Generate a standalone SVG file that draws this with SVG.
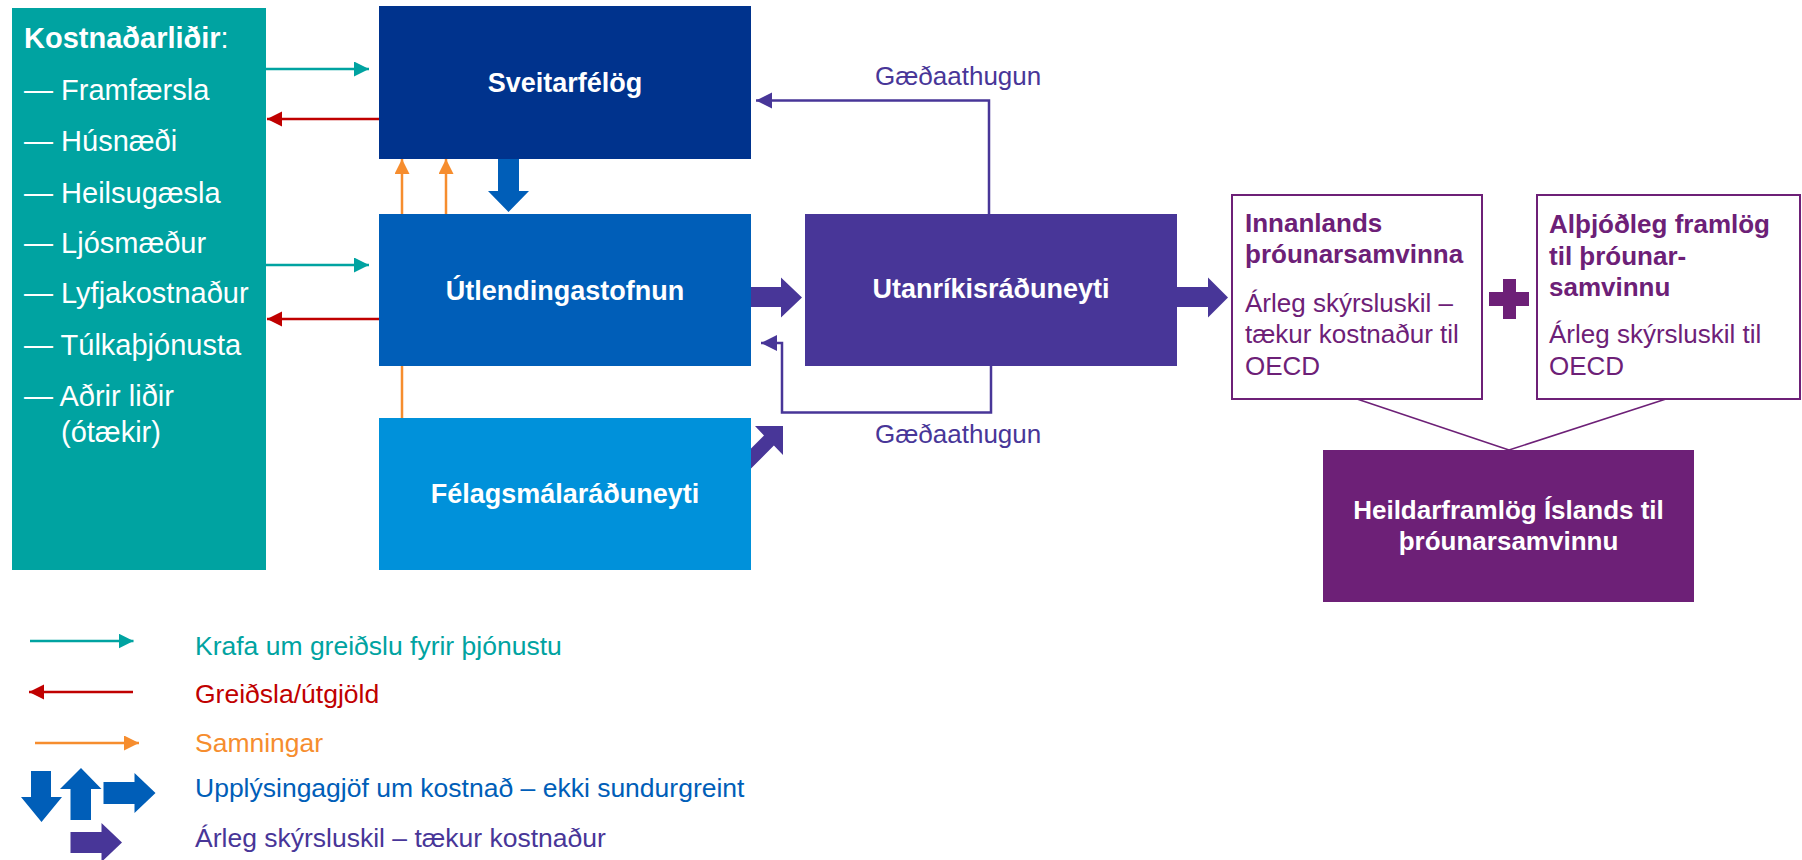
<svg xmlns="http://www.w3.org/2000/svg" width="1802" height="860" viewBox="0 0 1802 860">
<style>
text{font-family:"Liberation Sans",Arial,sans-serif}
.wl{fill:#fff;font-size:29px}
.lbl{fill:#fff;font-size:27px;font-weight:bold;text-anchor:middle}
.pl{fill:#6D2077;font-size:26px}
.plb{fill:#6D2077;font-size:26px;font-weight:bold}
.gq{fill:#483698;font-size:26px}
.lg{font-size:26.5px}
.teal{stroke:#00A3A1;stroke-width:2.5;fill:none}
.red{stroke:#C00000;stroke-width:2.5;fill:none}
.org{stroke:#F68D2E;stroke-width:2.5;fill:none}
.pur{stroke:#483698;stroke-width:2.5;fill:none}
.thin{stroke:#6D2077;stroke-width:1.5;fill:none}
</style>
<defs>
<marker id="mTeal" markerUnits="userSpaceOnUse" markerWidth="16" markerHeight="16" refX="15" refY="7.5" orient="auto"><path d="M0,0 L15,7.5 L0,15 z" fill="#00A3A1"/></marker>
<marker id="mRed" markerUnits="userSpaceOnUse" markerWidth="16" markerHeight="16" refX="15" refY="7.5" orient="auto"><path d="M0,0 L15,7.5 L0,15 z" fill="#C00000"/></marker>
<marker id="mOrg" markerUnits="userSpaceOnUse" markerWidth="16" markerHeight="16" refX="15" refY="7.5" orient="auto"><path d="M0,0 L15,7.5 L0,15 z" fill="#F68D2E"/></marker>
<marker id="mPur" markerUnits="userSpaceOnUse" markerWidth="17" markerHeight="17" refX="16" refY="8" orient="auto"><path d="M0,0 L16,8 L0,16 z" fill="#483698"/></marker>
</defs>

<g id="connectors">
<line class="teal" x1="266" y1="69" x2="369" y2="69" marker-end="url(#mTeal)"/>
<line class="red" x1="379" y1="119" x2="267" y2="119" marker-end="url(#mRed)"/>
<line class="teal" x1="266" y1="265" x2="369" y2="265" marker-end="url(#mTeal)"/>
<line class="red" x1="379" y1="319" x2="267" y2="319" marker-end="url(#mRed)"/>
<line class="org" x1="402" y1="418" x2="402" y2="159" marker-end="url(#mOrg)"/>
<line class="org" x1="446" y1="214" x2="446" y2="159" marker-end="url(#mOrg)"/>
<polygon fill="#005EB8" points="498,159 519,159 519,191 529,191 508.5,212 488,191 498,191"/>
<polygon fill="#483698" points="751,287 781,287 781,277.5 802,297.5 781,317.5 781,307 751,307"/>
<polygon fill="#483698" points="1177,287 1208,287 1208,277.5 1228,297.5 1208,317.5 1208,307 1177,307"/>
<polygon fill="#483698" points="783,426 783,455 773.9,445.4 750,469.5 740,459.5 764,435.5 755,426"/>
<polyline class="pur" points="989,214 989,100.5 756,100.5" marker-end="url(#mPur)"/>
<polyline class="pur" points="991,366 991,412.5 782,412.5 782,343 761,343" marker-end="url(#mPur)"/>
<line class="thin" x1="1357" y1="399" x2="1509" y2="450"/>
<line class="thin" x1="1666" y1="399" x2="1509" y2="450"/>
<text class="gq" x="875" y="85">Gæðaathugun</text>
<text class="gq" x="875" y="443">Gæðaathugun</text>
</g>

<g id="kostnadarlidir">
<rect x="12" y="8" width="254" height="562" fill="#00A3A1"/>
<text class="wl" x="24" y="48"><tspan font-weight="bold">Kostnaðarliðir</tspan>:</text>
<text class="wl" x="24" y="100">— Framfærsla</text>
<text class="wl" x="24" y="151">— Húsnæði</text>
<text class="wl" x="24" y="203">— Heilsugæsla</text>
<text class="wl" x="24" y="253">— Ljósmæður</text>
<text class="wl" x="24" y="303">— Lyfjakostnaður</text>
<text class="wl" x="24" y="355">— Túlkaþjónusta</text>
<text class="wl" x="24" y="406">— Aðrir liðir</text>
<text class="wl" x="61" y="442">(ótækir)</text>
</g>

<g id="sveitarfelog">
<rect x="379" y="6" width="372" height="153" fill="#00338D"/>
<text class="lbl" x="565" y="92">Sveitarfélög</text>
</g>

<g id="utlendingastofnun">
<rect x="379" y="214" width="372" height="152" fill="#005EB8"/>
<text class="lbl" x="565" y="300">Útlendingastofnun</text>
</g>

<g id="felagsmalaraduneyti">
<rect x="379" y="418" width="372" height="152" fill="#0091DA"/>
<text class="lbl" x="565" y="503">Félagsmálaráðuneyti</text>
</g>

<g id="utanrikisraduneyti">
<rect x="805" y="214" width="372" height="152" fill="#483698"/>
<text class="lbl" x="991" y="298">Utanríkisráðuneyti</text>
</g>

<g id="innanlands">
<rect x="1232" y="195" width="250" height="204" fill="#fff" stroke="#6D2077" stroke-width="2"/>
<text class="plb" x="1245" y="232">Innanlands</text>
<text class="plb" x="1245" y="263">þróunarsamvinna</text>
<text class="pl" x="1245" y="312">Árleg skýrsluskil –</text>
<text class="pl" x="1245" y="343">tækur kostnaður til</text>
<text class="pl" x="1245" y="375">OECD</text>
</g>

<g id="plus">
<rect x="1489" y="292" width="40" height="14" fill="#6D2077"/>
<rect x="1503" y="279" width="13" height="40" fill="#6D2077"/>
</g>

<g id="althjodleg">
<rect x="1537" y="195" width="263" height="204" fill="#fff" stroke="#6D2077" stroke-width="2"/>
<text class="plb" x="1549" y="233">Alþjóðleg framlög</text>
<text class="plb" x="1549" y="265">til þróunar-</text>
<text class="plb" x="1549" y="296">samvinnu</text>
<text class="pl" x="1549" y="343">Árleg skýrsluskil til</text>
<text class="pl" x="1549" y="375">OECD</text>
</g>

<g id="heildarframlog">
<rect x="1323" y="450" width="371" height="152" fill="#6D2077"/>
<text fill="#fff" font-size="26" font-weight="bold" text-anchor="middle" x="1508.5" y="519">Heildarframlög Íslands til</text>
<text fill="#fff" font-size="26" font-weight="bold" text-anchor="middle" x="1508.5" y="550">þróunarsamvinnu</text>
</g>

<g id="legend">
<line class="teal" x1="30" y1="641" x2="133.5" y2="641" marker-end="url(#mTeal)"/>
<text class="lg" fill="#00A3A1" x="195" y="655">Krafa um greiðslu fyrir þjónustu</text>
<line class="red" x1="133" y1="692" x2="29" y2="692" marker-end="url(#mRed)"/>
<text class="lg" fill="#C00000" x="195" y="703">Greiðsla/útgjöld</text>
<line class="org" x1="35" y1="743" x2="139" y2="743" marker-end="url(#mOrg)"/>
<text class="lg" fill="#F68D2E" x="195" y="752">Samningar</text>
<polygon fill="#005EB8" points="31,771 51,771 51,797 62,797 41.5,822 21,797 31,797"/>
<polygon fill="#005EB8" points="70.5,820 91,820 91,789 101.5,789 81,768 60,789 70.5,789"/>
<polygon fill="#005EB8" points="103.5,782 134.5,782 134.5,773 155.5,793 134.5,813 134.5,804 103.5,804"/>
<text class="lg" fill="#005EB8" x="195" y="797">Upplýsingagjöf um kostnað – ekki sundurgreint</text>
<polygon fill="#483698" points="70.5,832 101.5,832 101.5,823 122,842.5 101.5,862 101.5,853 70.5,853"/>
<text class="lg" fill="#483698" x="195" y="847">Árleg skýrsluskil – tækur kostnaður</text>
</g>
</svg>
